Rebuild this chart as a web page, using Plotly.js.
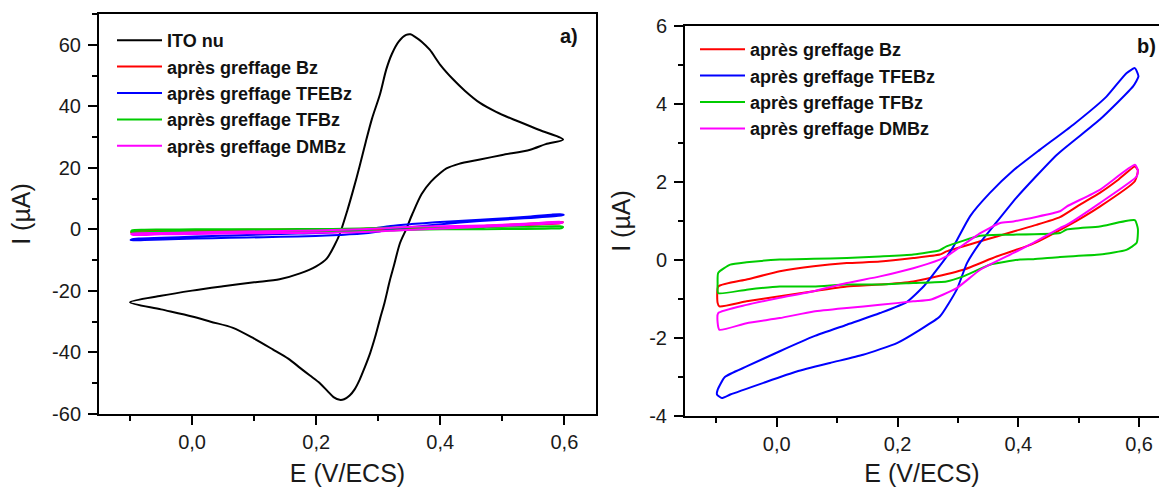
<!DOCTYPE html>
<html>
<head>
<meta charset="utf-8">
<script src="https://cdn.plot.ly/plotly-3.0.1.min.js"></script>
<style>
html,body{margin:0;padding:0;background:#fff;}
#chart{width:1159px;height:487px;}
</style>
</head>
<body>
<div id="chart"></div>
<script>
// ---------- data (E in V/ECS, I in µA), closed CV loops ----------
const itoE = [-0.1,-0.05,0.0,0.05,0.1,0.141,0.174,0.2,0.217,0.23,0.238,0.25,0.26,0.27,0.28,0.29,0.303,0.313,0.322,0.333,0.345,0.352,0.36,0.37,0.383,0.4,0.421,0.44,0.464,0.49,0.518,0.56,0.598,
  0.57,0.545,0.5,0.464,0.43,0.41,0.4,0.385,0.37,0.355,0.345,0.335,0.325,0.319,0.31,0.303,0.295,0.287,0.278,0.27,0.262,0.254,0.245,0.238,0.228,0.218,0.206,0.19,0.174,0.155,0.13,0.1,0.066,0.03,0.0,-0.05,-0.1];
const itoI = [-23.7,-21.6,-19.9,-18.5,-17.2,-16.2,-14.3,-12,-9.5,-5,-1.5,6,13,20.5,28.5,36,44,52,57,61,63.2,63.4,62.5,61,58.4,53.5,48.7,45,41.1,38.2,35.7,32.3,29.2,
  27.7,25.9,24.2,22.7,21.3,19.8,18.3,15.5,11.5,5,0,-4.5,-12,-16.4,-24,-29,-35,-40.2,-45,-48.9,-52,-54,-55.2,-55.4,-54.5,-52.5,-50,-47.5,-45,-42,-39,-35.5,-32,-30,-28.3,-26,-23.7];

const bzE = [-0.097,-0.05,0.005,0.061,0.116,0.171,0.226,0.27,0.281,0.337,0.392,0.43,0.469,0.5,0.535,0.565,0.593,0.598,
  0.593,0.535,0.48,0.425,0.364,0.309,0.254,0.226,0.171,0.116,0.061,0.005,-0.05,-0.095,-0.098,-0.097];
const bzI = [-0.68,-0.5,-0.29,-0.16,-0.08,-0.04,0.05,0.14,0.22,0.48,0.73,0.9,1.1,1.4,1.72,2.05,2.4,2.3,
  2.02,1.37,0.86,0.42,0.09,-0.25,-0.46,-0.55,-0.63,-0.68,-0.8,-0.93,-1.06,-1.19,-1.1,-0.68];

const tfebzE = [-0.098,-0.086,-0.05,0.005,0.061,0.116,0.171,0.215,0.243,0.26,0.275,0.292,0.32,0.353,0.392,0.436,0.491,0.546,0.579,0.593,0.599,
  0.59,0.535,0.464,0.397,0.364,0.337,0.315,0.298,0.27,0.237,0.199,0.143,0.088,0.033,-0.022,-0.077,-0.091,-0.099,-0.098];
const tfebzI = [-3.33,-3.0,-2.73,-2.34,-1.96,-1.66,-1.36,-1.08,-0.68,-0.35,-0.05,0.33,1.12,1.72,2.3,2.83,3.47,4.19,4.79,4.92,4.71,
  4.45,3.6,2.7,1.6,0.97,0.45,-0.08,-0.76,-1.45,-1.79,-2.13,-2.43,-2.64,-2.86,-3.15,-3.45,-3.54,-3.45,-3.33];

const tfbzE = [-0.097,-0.077,-0.05,0.005,0.061,0.116,0.171,0.226,0.27,0.281,0.337,0.37,0.392,0.469,0.48,0.535,0.593,0.598,0.596,0.579,0.535,0.469,0.425,0.403,0.353,0.309,0.281,0.226,0.171,0.116,0.061,0.005,-0.05,-0.097,-0.098,-0.097];
const tfbzI = [-0.33,-0.12,-0.06,0.01,0.03,0.05,0.09,0.14,0.25,0.35,0.62,0.65,0.65,0.69,0.78,0.86,1.02,0.8,0.44,0.26,0.14,0.08,0.02,0.01,-0.12,-0.42,-0.55,-0.59,-0.63,-0.63,-0.68,-0.68,-0.76,-0.85,-0.6,-0.33];

const dmbzE = [-0.097,-0.05,0.005,0.061,0.116,0.171,0.226,0.27,0.281,0.337,0.37,0.392,0.469,0.48,0.535,0.593,0.598,
  0.596,0.535,0.48,0.469,0.425,0.392,0.337,0.298,0.254,0.226,0.171,0.116,0.061,0.005,-0.05,-0.095,-0.098,-0.097];
const dmbzI = [-1.36,-1.15,-0.97,-0.8,-0.59,-0.42,-0.21,0.01,0.09,0.69,0.95,0.99,1.25,1.37,1.8,2.44,2.3,
  2.14,1.46,0.9,0.82,0.44,0.18,-0.25,-0.72,-1.02,-1.06,-1.15,-1.23,-1.32,-1.49,-1.62,-1.79,-1.6,-1.36];

const seriesNames = ['ITO nu','après greffage Bz','après greffage TFEBz','après greffage TFBz','après greffage DMBz'];
const seriesColors = ['#000000','#ff0000','#0000ff','#00cc00','#ff00ff'];

// tick labels
const xTickVals = [0.0,0.2,0.4,0.6];
const xTickText = ['0,0','0,2','0,4','0,6'];
const yTickValsA = [-60,-40,-20,0,20,40,60];
const yTickTextA = ['-60','-40','-20','0','20','40','60'];
const yTickValsB = [-4,-2,0,2,4,6];
const yTickTextB = ['-4','-2','0','2','4','6'];

// ---------- build traces ----------
const loopsE = [itoE,bzE,tfebzE,tfbzE,dmbzE];
const loopsI = [itoI,bzI,tfebzI,tfbzI,dmbzI];
const traces = [];
for (let k=0;k<5;k++){
  traces.push({x:loopsE[k],y:loopsI[k],xaxis:'x',yaxis:'y',mode:'lines',name:seriesNames[k],
    legend:'legend',legendgroup:'a'+k,line:{color:seriesColors[k],width:2,shape:'spline',smoothing:0.8},hoverinfo:'skip'});
}
for (let k=1;k<5;k++){
  traces.push({x:loopsE[k],y:loopsI[k],xaxis:'x2',yaxis:'y2',mode:'lines',name:seriesNames[k],
    legend:'legend2',legendgroup:'b'+k,line:{color:seriesColors[k],width:2,shape:'spline',smoothing:0.5},hoverinfo:'skip'});
}

const W=1159,H=487;
const tickFont = {family:'Liberation Sans, Arial, sans-serif',size:20,color:'#1a1a1a'};
const titleFont = {family:'Liberation Sans, Arial, sans-serif',size:25,color:'#1a1a1a'};
const legFont = {family:'Liberation Sans, Arial, sans-serif',size:18,color:'#111',weight:'bold'};

function xAx(domain,range,anchor){
  return {domain:domain,range:range,anchor:anchor,showline:true,linewidth:2,linecolor:'#000',mirror:true,
    showgrid:false,zeroline:false,ticks:'outside',ticklen:9,tickwidth:2,tickcolor:'#000',
    tickmode:'array',tickvals:xTickVals,ticktext:xTickText,tickfont:tickFont,
    minor:{ticks:'outside',ticklen:5,tickwidth:2,tickcolor:'#000',dtick:0.1,tick0:0,showgrid:false},
    title:{text:'E (V/ECS)',font:titleFont,standoff:13},automargin:false};
}
function yAx(domain,range,anchor,tv,tt,minorD,mirror,standoff){
  return {domain:domain,range:range,anchor:anchor,showline:true,linewidth:2,linecolor:'#000',mirror:mirror,
    showgrid:false,zeroline:false,ticks:'outside',ticklen:9,tickwidth:2,tickcolor:'#000',
    tickmode:'array',tickvals:tv,ticktext:tt,tickfont:tickFont,ticklabelstandoff:3,
    minor:{ticks:'outside',ticklen:5,tickwidth:2,tickcolor:'#000',dtick:minorD,tick0:0,showgrid:false},
    title:{text:'I (µA)',font:titleFont,standoff:standoff},automargin:false};
}

const layout = {
  width:W,height:H,margin:{l:0,r:0,t:0,b:0},
  paper_bgcolor:'#ffffff',plot_bgcolor:'#ffffff',showlegend:true,
  xaxis:xAx([99/W,596/W],[-0.15,0.651],'y'),
  yaxis:yAx([1-414/H,1-14/H],[-60,70],'x',yTickValsA,yTickTextA,10,true,14),
  xaxis2:xAx([685/W,1],[-0.152,0.633],'y2'),
  yaxis2:yAx([1-416/H,1-26/H],[-4,6],'x2',yTickValsB,yTickTextB,1,false,11),
  legend:{x:112/W,y:1-22/H,xanchor:'left',yanchor:'top',bgcolor:'rgba(0,0,0,0)',borderwidth:0,
    font:legFont,tracegroupgap:0,itemwidth:45},
  legend2:{x:695/W,y:1-31/H,xanchor:'left',yanchor:'top',bgcolor:'rgba(0,0,0,0)',borderwidth:0,
    font:legFont,tracegroupgap:0,itemwidth:45},
  annotations:[
    {text:'a)',xref:'x domain',yref:'y domain',x:0.968,y:0.944,xanchor:'right',yanchor:'middle',showarrow:false,
      font:{family:'Liberation Sans, Arial, sans-serif',size:20,color:'#111',weight:'bold'}},
    {text:'b)',xref:'x2 domain',yref:'y2 domain',x:0.998,y:0.949,xanchor:'right',yanchor:'middle',showarrow:false,
      font:{family:'Liberation Sans, Arial, sans-serif',size:20,color:'#111',weight:'bold'}}
  ]
};
Plotly.newPlot('chart',traces,layout,{staticPlot:true,displayModeBar:false});
</script>
</body>
</html>
